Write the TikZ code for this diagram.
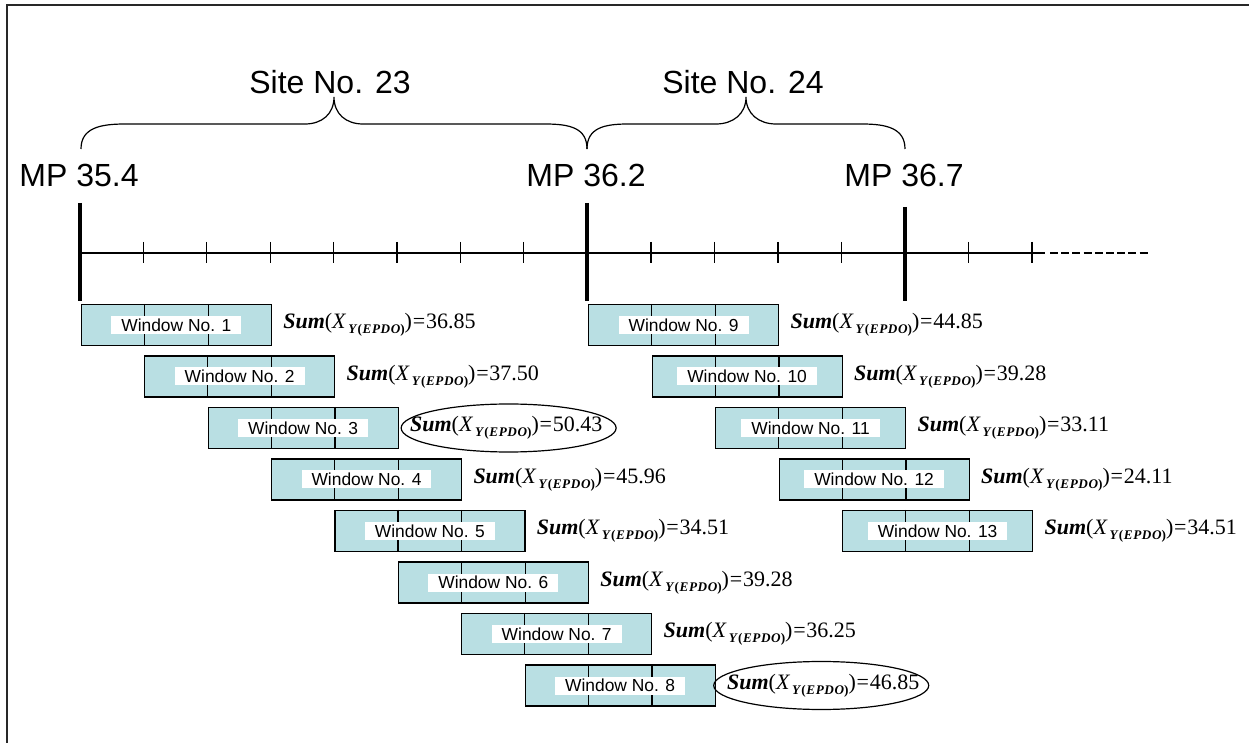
\documentclass[tikz,border=0pt]{standalone}
\usepackage{fontspec}
\setmainfont{Liberation Serif}
\setsansfont{Liberation Sans}
\usetikzlibrary{shapes.geometric,calc}
\definecolor{winfill}{RGB}{185,223,227}
\definecolor{framegray}{RGB}{40,40,40}
\newcommand{\sumlbl}[1]{{\bfseries\itshape Sum}(\textit{X}\kern1pt\raisebox{-0.5ex}{\fontsize{6.6}{7}\selectfont\bfseries\itshape Y\kern0.6pt\upshape(\itshape\kern0.3pt E\kern0.3pt P\kern0.3pt D\kern0.3pt O\upshape)})\kern0.4pt=\kern0.4pt#1}
\begin{document}
\begin{tikzpicture}[x=0.5pt,y=-0.5pt,
  bigtxt/.style={font=\sffamily\fontsize{16}{18}\selectfont, inner sep=0pt},
  thickmark/.style={line width=1.8pt},
  smalltick/.style={line width=0.55pt},
  brace/.style={line width=0.6pt},
  winbox/.style={draw=black, fill=winfill, line width=0.6pt, minimum width=95pt, minimum height=20.5pt, inner sep=0pt},
  winlbl/.style={fill=white, font=\sffamily\fontsize{8.7}{10}\selectfont, inner xsep=5pt, inner ysep=0pt, minimum height=9pt},
  sumtxt/.style={font=\fontsize{11}{12}\selectfont, inner sep=0pt, anchor=west},
  circ/.style={draw=black, ellipse, line width=0.6pt, minimum width=107.5pt, minimum height=24pt, inner sep=0pt}
]
\useasboundingbox (0,0) rectangle (1249,743);
% frame
\draw[framegray, line width=0.8pt] (7,743) -- (7,5) -- (1249,5);

% axis
\coordinate (a0) at (80,253);
\coordinate (a1) at (1045,253);
\coordinate (d0) at (1050,253);
\coordinate (d1) at (1150,253);
\draw[line width=0.6pt] (a0) -- (a1);
\draw[line width=0.6pt, dash pattern=on 4pt off 1.6pt] (d0) -- (d1);
\foreach \x in {143.4,206.8,270.2,333.6,397,460.4,523.8,651,714.5,778,841.5,968.5,1032} {
  \draw[smalltick] (\x,242) -- (\x,263);
}
\coordinate (m1t) at (80,203); \coordinate (m1b) at (80,301);
\coordinate (m2t) at (587,203); \coordinate (m2b) at (587,301);
\coordinate (m3t) at (905,207); \coordinate (m3b) at (905,301);
\draw[thickmark] (m1t) -- (m1b);
\draw[thickmark] (m2t) -- (m2b);
\draw[thickmark] (m3t) -- (m3b);

\node[bigtxt] (mp1) at (79,175) {MP 35.4};
\node[bigtxt] (mp2) at (586,175) {MP 36.2};
\node[bigtxt] (mp3) at (904,175) {MP 36.7};

% braces
\draw[brace] (81,149) .. controls (81,128) and (100,124) .. (125,124) -- (305,124)
  .. controls (322,124) and (334,114) .. (334,97)
  .. controls (334,114) and (346,124) .. (363,124) -- (545,124)
  .. controls (570,124) and (587,128) .. (587,149);
\draw[brace] (587,149) .. controls (587,128) and (604,124) .. (628,124) -- (716,124)
  .. controls (733,124) and (746,114) .. (746,97)
  .. controls (746,114) and (759,124) .. (776,124) -- (862,124)
  .. controls (886,124) and (905,128) .. (905,149);
\node[bigtxt] (s23) at (330,82) {Site No. 23};
\node[bigtxt] (s24) at (743,82) {Site No. 24};

% windows
\foreach \n/\x/\y/\v in {1/80.7/325/36.85, 2/144.1/376.5/37.50, 3/207.5/428/50.43, 4/270.9/479.5/45.96,
  5/334.3/531/34.51, 6/397.7/582.5/39.28, 7/461.1/634/36.25, 8/524.5/685.5/46.85,
  9/588/325/44.85, 10/651.5/376.5/39.28, 11/715/428/33.11, 12/778.5/479.5/24.11, 13/842/531/34.51} {
  \node[winbox, anchor=west] (w\n) at (\x,\y) {};
  \draw[line width=0.6pt] ($(w\n.north west)!1/3!(w\n.north east)$) -- ($(w\n.south west)!1/3!(w\n.south east)$);
  \draw[line width=0.6pt] ($(w\n.north west)!2/3!(w\n.north east)$) -- ($(w\n.south west)!2/3!(w\n.south east)$);
  \node[winlbl] (wl\n) at (w\n.center) {Window No. \n};
  \node[sumtxt] (sum\n) at ([xshift=5.5pt]w\n.east) {\sumlbl{\v}};
}
\node[circ] (e3) at ([xshift=1.2pt]sum3.center) {};
\node[circ] (e8) at ([xshift=-1pt]sum8.center) {};
\end{tikzpicture}
\end{document}
